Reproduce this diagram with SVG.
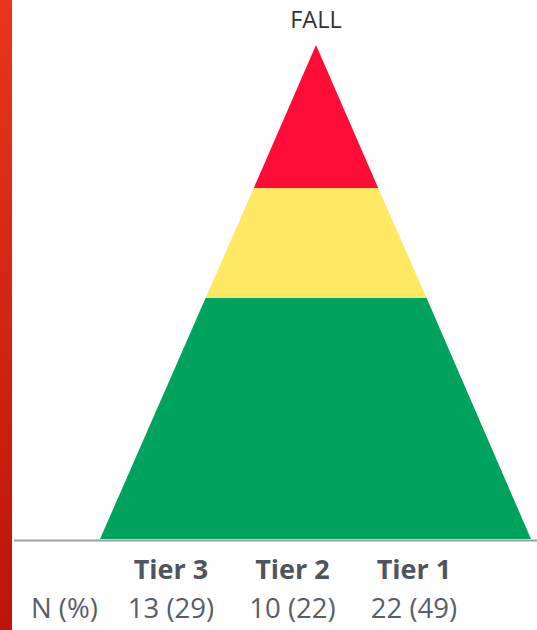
<svg xmlns="http://www.w3.org/2000/svg" width="537" height="630" viewBox="0 0 537 630">
  <defs>
    <linearGradient id="edge" x1="0" y1="0" x2="0" y2="1">
      <stop offset="0" stop-color="#e9361a"/>
      <stop offset="1" stop-color="#bd130c"/>
    </linearGradient>
    <style>
      .cap { font-family: "Open Sans", "Liberation Sans", sans-serif; fill: #333333; font-size: 23.5px; text-anchor: middle; }
      .tier { font-family: "Open Sans", "Liberation Sans", sans-serif; font-weight: bold; fill: #50545e; font-size: 27px; text-anchor: middle; }
      .val { font-family: "Open Sans", "Liberation Sans", sans-serif; fill: #5a5d68; font-size: 27.5px; text-anchor: middle; }
      .val.lead { text-anchor: start; }
    </style>
  </defs>
  <rect width="537" height="630" fill="#ffffff"/>
  <!-- side accent strip -->
  <rect x="0" y="0" width="12" height="630" fill="url(#edge)"/>

  <!-- pyramid layers: apex (316,45), base 100..531 at y=539 -->
  <g id="layer-red">
    <polygon points="316,45 253.8,188 378.2,188" fill="#fc0c36"/>
  </g>
  <g id="layer-yellow">
    <polygon points="253.8,188 378.2,188 426.6,298 205.6,298" fill="#ffe964"/>
  </g>
  <g id="layer-green">
    <polygon points="205.6,298 426.6,298 531,539 100,539" fill="#00a35e"/>
  </g>

  <!-- baseline -->
  <line x1="14" y1="540.5" x2="537" y2="540.5" stroke="#9e9e9e" stroke-width="2"/>

  <text class="cap" x="316" y="28">FALL</text>

  <g id="tier-labels">
    <text class="tier" x="171" y="579">Tier 3</text>
    <text class="tier" x="292.5" y="579">Tier 2</text>
    <text class="tier" x="414" y="579">Tier 1</text>
  </g>
  <g id="counts">
    <text class="val lead" x="31" y="618">N (%)</text>
    <text class="val" x="171" y="618">13 (29)</text>
    <text class="val" x="292.5" y="618">10 (22)</text>
    <text class="val" x="414" y="618">22 (49)</text>
  </g>
</svg>
